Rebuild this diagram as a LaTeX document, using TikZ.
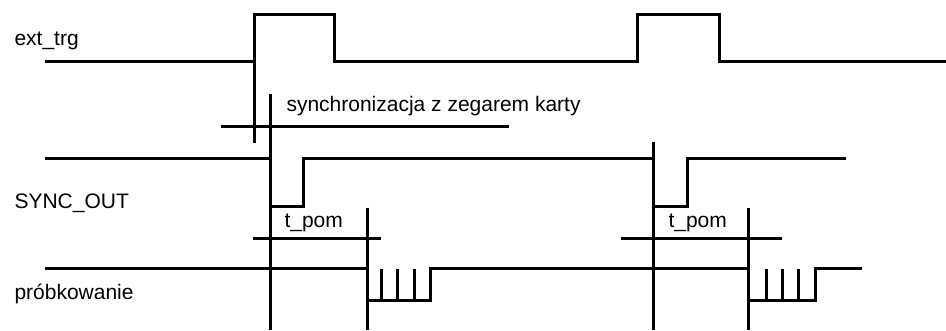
\documentclass[tikz,border=0pt]{standalone}
\usepackage{fontspec}
\setmainfont{Liberation Sans}
\begin{document}
\begin{tikzpicture}[x=1pt,y=-1pt,line width=3pt,line join=miter,
  lbl/.style={anchor=base west,inner sep=0pt,font=\fontsize{21}{25}\selectfont}]
\useasboundingbox (0,0) rectangle (946,331);
% etykiety sygnalow
\node[lbl] (ext) at (13,46) {ext\_trg};
\node[lbl] (sync) at (13,209) {SYNC\_OUT};
\node[lbl] (probk) at (13,300) {pr\'obkowanie};
\node[lbl] (opis) at (285,112) {synchronizacja z zegarem karty};
\node[lbl] (tpom1) at (283,228) {t\_pom};
\node[lbl] (tpom2) at (667,228) {t\_pom};
% ext_trg
\draw (45,62) -| (254,15) -| (334,62) -| (637,15) -| (719,62) -- (946,62);
\draw (254,62) -- (254,143);
% SYNC_OUT
\draw (45,159) -| (270,207) -| (303,159) -| (653,207) -| (687,159) -- (846,159);
% probkowanie
\draw (45,269) -| (367,301) -| (430,269) -| (748,301) -| (815,269) -- (862,269);
\foreach \x in {381,397,414,766,782,798}
  \draw (\x,269) -- (\x,301);
% znaczniki czasu
\draw (270,94) -- (270,330);
\draw (221,127) -- (509,127);
\draw (653,142) -- (653,330);
\draw (367,208) -- (367,330) (748,208) -- (748,330);
\draw (253,239) -- (381,239) (621,239) -- (782,239);
\end{tikzpicture}
\end{document}
